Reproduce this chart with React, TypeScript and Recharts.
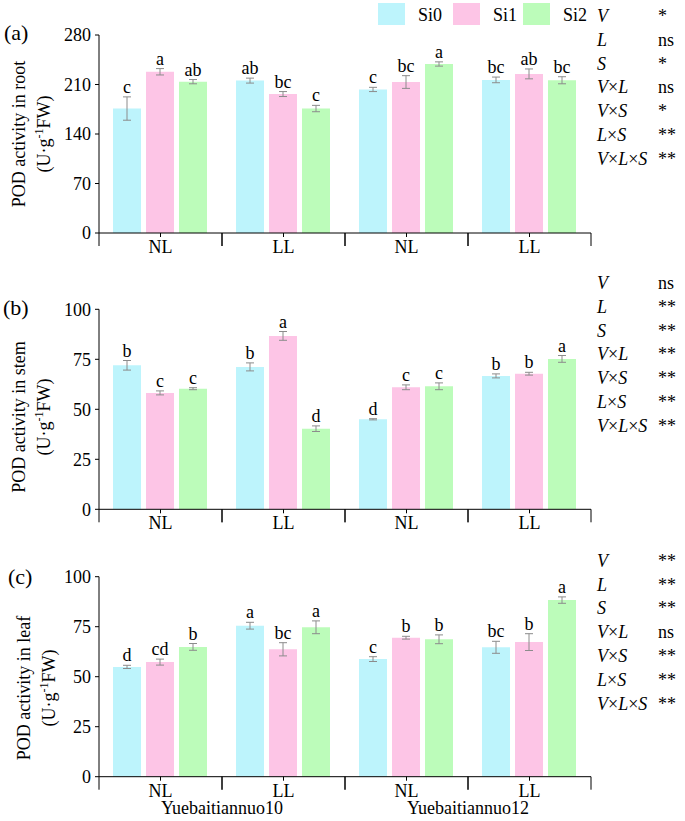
import React from "react";
import { BarChart, Bar, XAxis, YAxis, ErrorBar, LabelList } from "recharts";

const categories = ["NL", "LL", "NL", "LL"];
const varieties = ["Yuebaitiannuo10", "Yuebaitiannuo12"];
const seriesNames = ["Si0", "Si1", "Si2"];
const seriesColors = ["#BDF4FC", "#FDC5E6", "#BCFCBA"];

// (a) root
const rootSi0 = [176, 215.5, 203, 216.5];
const rootSi1 = [228, 196.5, 213.5, 225];
const rootSi2 = [214, 176, 239, 216];
const rootErrSi0 = [16.5, 3.5, 3, 4];
const rootErrSi1 = [4.5, 3.5, 9, 7];
const rootErrSi2 = [3, 4.5, 3, 5];
const rootLetSi0 = ["c", "ab", "c", "bc"];
const rootLetSi1 = ["a", "bc", "bc", "ab"];
const rootLetSi2 = ["ab", "c", "a", "bc"];
const rootTicks = [0, 70, 140, 210, 280];

// (b) stem
const stemSi0 = [72, 71.2, 45, 66.7];
const stemSi1 = [58.2, 86.7, 61, 67.8];
const stemSi2 = [60.3, 40.3, 61.5, 75.2];
const stemErrSi0 = [2.4, 2, 0.3, 1];
const stemErrSi1 = [1, 2.2, 1.2, 0.7];
const stemErrSi2 = [0.5, 1.4, 1.7, 1.7];
const stemLetSi0 = ["b", "b", "d", "b"];
const stemLetSi1 = ["c", "a", "c", "b"];
const stemLetSi2 = ["c", "d", "c", "a"];
const stemTicks = [0, 25, 50, 75, 100];

// (c) leaf
const leafSi0 = [54.9, 75.5, 58.8, 64.7];
const leafSi1 = [57.3, 63.7, 69.5, 67.3];
const leafSi2 = [64.9, 74.7, 68.7, 88.3];
const leafErrSi0 = [0.8, 1.7, 1.2, 3];
const leafErrSi1 = [1.5, 3.3, 0.7, 4.2];
const leafErrSi2 = [1.7, 3.2, 2.2, 1.6];
const leafLetSi0 = ["d", "a", "c", "bc"];
const leafLetSi1 = ["cd", "bc", "b", "b"];
const leafLetSi2 = ["b", "a", "b", "a"];
const leafTicks = [0, 25, 50, 75, 100];

const statTerms = [["V"], ["L"], ["S"], ["V", "L"], ["V", "S"], ["L", "S"], ["V", "L", "S"]];
const rootSig = ["*", "ns", "*", "ns", "*", "**", "**"];
const stemSig = ["ns", "**", "**", "**", "**", "**", "**"];
const leafSig = ["**", "**", "**", "ns", "**", "**", "**"];

const FONT = "'Liberation Serif', 'Times New Roman', serif";

type Panel = {
  means: number[][];
  errs: number[][];
  letters: string[][];
  ticks: number[];
  top: number;
  height: number;
  marginTop: number;
  xAxisHeight: number;
  showVariety: boolean;
};

const panels: Panel[] = [
  {
    means: [rootSi0, rootSi1, rootSi2],
    errs: [rootErrSi0, rootErrSi1, rootErrSi2],
    letters: [rootLetSi0, rootLetSi1, rootLetSi2],
    ticks: rootTicks,
    top: 0,
    height: 262,
    marginTop: 35,
    xAxisHeight: 29,
    showVariety: false,
  },
  {
    means: [stemSi0, stemSi1, stemSi2],
    errs: [stemErrSi0, stemErrSi1, stemErrSi2],
    letters: [stemLetSi0, stemLetSi1, stemLetSi2],
    ticks: stemTicks,
    top: 260,
    height: 280,
    marginTop: 49.3,
    xAxisHeight: 30.7,
    showVariety: false,
  },
  {
    means: [leafSi0, leafSi1, leafSi2],
    errs: [leafErrSi0, leafErrSi1, leafErrSi2],
    letters: [leafLetSi0, leafLetSi1, leafLetSi2],
    ticks: leafTicks,
    top: 540,
    height: 281,
    marginTop: 36.7,
    xAxisHeight: 44.3,
    showVariety: true,
  },
];

const buildRows = (p: Panel) =>
  categories.map((c, i) => ({
    cat: c,
    m0: p.means[0][i],
    m1: p.means[1][i],
    m2: p.means[2][i],
    e0: p.errs[0][i],
    e1: p.errs[1][i],
    e2: p.errs[2][i],
    l0: p.letters[0][i],
    l1: p.letters[1][i],
    l2: p.letters[2][i],
  }));

const makeLetter = (means: number[], errs: number[]) => (props: any) => {
  const vb = props.viewBox || {};
  const x = Number(props.x ?? vb.x);
  const y = Number(props.y ?? vb.y);
  const w = Number(props.width ?? vb.width);
  const h = Number(props.height ?? vb.height);
  const i = props.index;
  const pxPer = h / means[i];
  const top = y - errs[i] * pxPer;
  return (
    <text
      x={x + w / 2}
      y={top - 4}
      textAnchor="middle"
      fontFamily={FONT}
      fontSize={18}
      fill="#000"
    >
      {props.value}
    </text>
  );
};

const makeXTick = (showVariety: boolean) => (props: any) => {
  const { x, y, payload, index } = props;
  const off = payload && payload.offset ? payload.offset : 61.5;
  return (
    <g>
      <line x1={x} x2={x} y1={y} y2={y + 4} stroke="#000" strokeWidth={1} />
      <line x1={x - off} x2={x - off} y1={y} y2={y + 13} stroke="#000" strokeWidth={1} />
      <line x1={x + off} x2={x + off} y1={y} y2={y + 13} stroke="#000" strokeWidth={1} />
      <text x={x} y={y + 20} textAnchor="middle" fontFamily={FONT} fontSize={18} fill="#000">
        {categories[index]}
      </text>
      {showVariety && index % 2 === 0 ? (
        <text x={x + off} y={y + 37.5} textAnchor="middle" fontFamily={FONT} fontSize={18} fill="#000">
          {varieties[index / 2]}
        </text>
      ) : null}
    </g>
  );
};

const PanelChart = ({ p }: { p: Panel }) => {
  const rows = buildRows(p);
  const max = p.ticks[p.ticks.length - 1];
  return (
    <div style={{ position: "absolute", left: 0, top: p.top }}>
      <BarChart
        width={685}
        height={p.height}
        data={rows}
        margin={{ top: p.marginTop, right: 94, left: 0, bottom: 0 }}
        barCategoryGap={14}
        barGap={5}
      >
        <XAxis
          dataKey="cat"
          height={p.xAxisHeight}
          tickLine={false}
          tickSize={0}
          tickMargin={0}
          axisLine={{ stroke: "#000", strokeWidth: 1 }}
          tick={makeXTick(p.showVariety)}
          interval={0}
        />
        <YAxis
          width={99}
          domain={[0, max]}
          ticks={p.ticks}
          axisLine={{ stroke: "#000", strokeWidth: 1 }}
          tickLine={{ stroke: "#000", strokeWidth: 1 }}
          tickSize={4}
          tickMargin={4}
          tick={{ fontFamily: FONT, fontSize: 18, fill: "#000" }}
          allowDataOverflow
        />
        {[0, 1, 2].map((s) => (
          <Bar
            key={s}
            dataKey={"m" + s}
            name={seriesNames[s]}
            fill={seriesColors[s]}
            isAnimationActive={false}
          >
            <ErrorBar
              dataKey={"e" + s}
              width={4}
              stroke="#8c8c8c"
              strokeWidth={1}
              direction="y"
              isAnimationActive={false}
            />
            <LabelList dataKey={"l" + s} content={makeLetter(p.means[s], p.errs[s])} />
          </Bar>
        ))}
      </BarChart>
    </div>
  );
};

const StatBlock = ({ sig, baseline }: { sig: string[]; baseline: number }) => (
  <g fontFamily={FONT} fontSize={18} fill="#000">
    {statTerms.map((t, i) => (
      <g key={i}>
        <text x={597} y={baseline + i * 23.8}>
          {t.map((v, j) => (
            <React.Fragment key={j}>
              {j > 0 ? <tspan fontStyle="normal">×</tspan> : null}
              <tspan fontStyle="italic">{v}</tspan>
            </React.Fragment>
          ))}
        </text>
        <text x={658} y={baseline + i * 23.8}>
          {sig[i]}
        </text>
      </g>
    ))}
  </g>
);

const YLabel = ({ name, cy, x1, x2 }: { name: string; cy: number; x1: number; x2: number }) => (
  <g fontFamily={FONT} fontSize={18} fill="#000">
    <text x={x1} y={cy} textAnchor="middle" transform={`rotate(-90, ${x1}, ${cy})`}>
      {name}
    </text>
    <text x={x2} y={cy} textAnchor="middle" transform={`rotate(-90, ${x2}, ${cy})`}>
      (U·g<tspan fontSize={12} dy={-7}>-1</tspan>
      <tspan dy={7}>FW)</tspan>
    </text>
  </g>
);

export default function App() {
  const legendX = [378, 453, 523];
  return (
    <div style={{ position: "absolute", left: 0, top: 0, width: 685, height: 821, background: "#fff" }}>
      {panels.map((p, i) => (
        <PanelChart key={i} p={p} />
      ))}
      <svg
        width={685}
        height={821}
        style={{ position: "absolute", left: 0, top: 0, pointerEvents: "none" }}
      >
        {/* legend */}
        {seriesNames.map((n, i) => (
          <g key={n}>
            <rect x={legendX[i]} y={3} width={27} height={22} fill={seriesColors[i]} />
            <text x={legendX[i] + 40} y={21} fontFamily={FONT} fontSize={18} fill="#000">
              {n}
            </text>
          </g>
        ))}
        {/* panel labels */}
        <text x={4} y={40} fontFamily={FONT} fontSize={22} fill="#000">(a)</text>
        <text x={3} y={315} fontFamily={FONT} fontSize={22} fill="#000">(b)</text>
        <text x={8} y={584} fontFamily={FONT} fontSize={22} fill="#000">(c)</text>
        <YLabel name="POD activity in root" cy={134} x1={25} x2={50} />
        <YLabel name="POD activity in stem" cy={417} x1={25} x2={50} />
        <YLabel name="POD activity in leaf" cy={688} x1={30} x2={55} />
        <StatBlock sig={rootSig} baseline={22} />
        <StatBlock sig={stemSig} baseline={289} />
        <StatBlock sig={leafSig} baseline={566.7} />
      </svg>
    </div>
  );
}
